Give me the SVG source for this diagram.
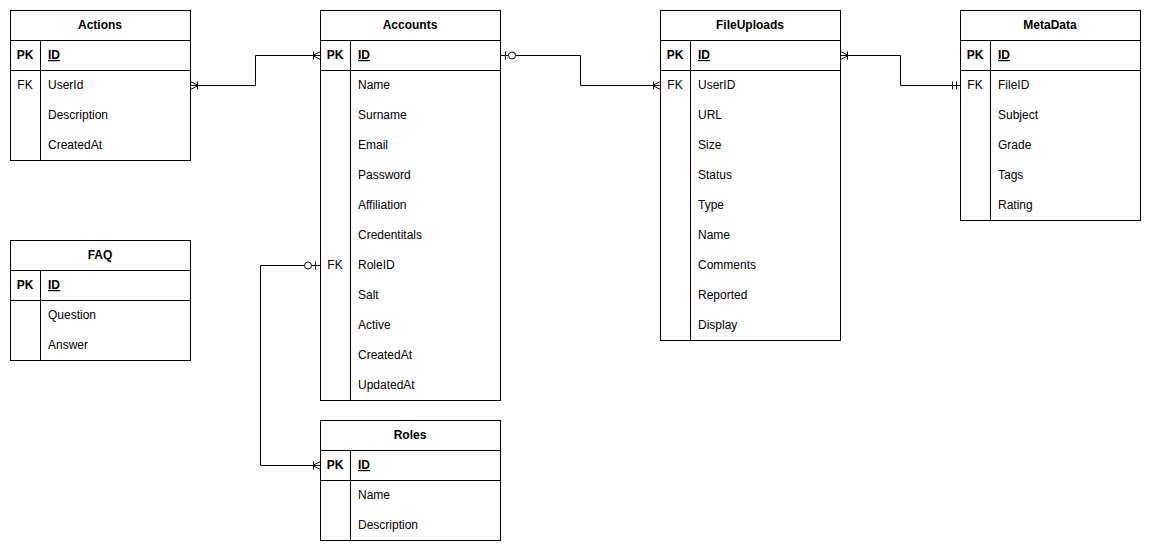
<svg xmlns="http://www.w3.org/2000/svg" width="1151" height="551" viewBox="0 0 1151 551">
  <style>
    .box { fill: #ffffff; stroke: #000000; stroke-width: 1; }
    .sep { stroke: #000000; stroke-width: 1; fill: none; }
    .title { font-family: "Liberation Sans", Arial, sans-serif; font-size: 12px; font-weight: bold; text-anchor: middle; fill: #000; }
    .key { font-family: "Liberation Sans", Arial, sans-serif; font-size: 12px; text-anchor: middle; fill: #000; }
    .pk { font-weight: bold; }
    .field { font-family: "Liberation Sans", Arial, sans-serif; font-size: 12px; fill: #000; }
    .id { font-weight: bold; text-decoration: underline; }
    .edge { stroke: #000000; stroke-width: 1; fill: none; }
    .end { stroke: #000000; stroke-width: 1; fill: #ffffff; }
  </style>

  <!-- Actions -->
  <g id="actions">
    <rect class="box" x="10.5" y="10.5" width="180" height="150"/>
    <line class="sep" x1="10.5" y1="40.5" x2="190.5" y2="40.5"/>
    <line class="sep" x1="10.5" y1="70.5" x2="190.5" y2="70.5"/>
    <line class="sep" x1="40.5" y1="40.5" x2="40.5" y2="160.5"/>
    <text class="title" x="100" y="29">Actions</text>
    <text class="key pk" x="25" y="59">PK</text>
    <text class="field id" x="48" y="59">ID</text>
    <text class="key" x="25" y="89">FK</text>
    <text class="field" x="48" y="89">UserId</text>
    <text class="field" x="48" y="119">Description</text>
    <text class="field" x="48" y="149">CreatedAt</text>
  </g>

  <!-- FAQ -->
  <g id="faq">
    <rect class="box" x="10.5" y="240.5" width="180" height="120"/>
    <line class="sep" x1="10.5" y1="270.5" x2="190.5" y2="270.5"/>
    <line class="sep" x1="10.5" y1="300.5" x2="190.5" y2="300.5"/>
    <line class="sep" x1="40.5" y1="270.5" x2="40.5" y2="360.5"/>
    <text class="title" x="100" y="259">FAQ</text>
    <text class="key pk" x="25" y="289">PK</text>
    <text class="field id" x="48" y="289">ID</text>
    <text class="field" x="48" y="319">Question</text>
    <text class="field" x="48" y="349">Answer</text>
  </g>

  <!-- Accounts -->
  <g id="accounts">
    <rect class="box" x="320.5" y="10.5" width="180" height="390"/>
    <line class="sep" x1="320.5" y1="40.5" x2="500.5" y2="40.5"/>
    <line class="sep" x1="320.5" y1="70.5" x2="500.5" y2="70.5"/>
    <line class="sep" x1="350.5" y1="40.5" x2="350.5" y2="400.5"/>
    <text class="title" x="410" y="29">Accounts</text>
    <text class="key pk" x="335" y="59">PK</text>
    <text class="field id" x="358" y="59">ID</text>
    <text class="field" x="358" y="89">Name</text>
    <text class="field" x="358" y="119">Surname</text>
    <text class="field" x="358" y="149">Email</text>
    <text class="field" x="358" y="179">Password</text>
    <text class="field" x="358" y="209">Affiliation</text>
    <text class="field" x="358" y="239">Credentitals</text>
    <text class="key" x="335" y="269">FK</text>
    <text class="field" x="358" y="269">RoleID</text>
    <text class="field" x="358" y="299">Salt</text>
    <text class="field" x="358" y="329">Active</text>
    <text class="field" x="358" y="359">CreatedAt</text>
    <text class="field" x="358" y="389">UpdatedAt</text>
  </g>

  <!-- Roles -->
  <g id="roles">
    <rect class="box" x="320.5" y="420.5" width="180" height="120"/>
    <line class="sep" x1="320.5" y1="450.5" x2="500.5" y2="450.5"/>
    <line class="sep" x1="320.5" y1="480.5" x2="500.5" y2="480.5"/>
    <line class="sep" x1="350.5" y1="450.5" x2="350.5" y2="540.5"/>
    <text class="title" x="410" y="439">Roles</text>
    <text class="key pk" x="335" y="469">PK</text>
    <text class="field id" x="358" y="469">ID</text>
    <text class="field" x="358" y="499">Name</text>
    <text class="field" x="358" y="529">Description</text>
  </g>

  <!-- FileUploads -->
  <g id="fileuploads">
    <rect class="box" x="660.5" y="10.5" width="180" height="330"/>
    <line class="sep" x1="660.5" y1="40.5" x2="840.5" y2="40.5"/>
    <line class="sep" x1="660.5" y1="70.5" x2="840.5" y2="70.5"/>
    <line class="sep" x1="690.5" y1="40.5" x2="690.5" y2="340.5"/>
    <text class="title" x="750" y="29">FileUploads</text>
    <text class="key pk" x="675" y="59">PK</text>
    <text class="field id" x="698" y="59">ID</text>
    <text class="key" x="675" y="89">FK</text>
    <text class="field" x="698" y="89">UserID</text>
    <text class="field" x="698" y="119">URL</text>
    <text class="field" x="698" y="149">Size</text>
    <text class="field" x="698" y="179">Status</text>
    <text class="field" x="698" y="209">Type</text>
    <text class="field" x="698" y="239">Name</text>
    <text class="field" x="698" y="269">Comments</text>
    <text class="field" x="698" y="299">Reported</text>
    <text class="field" x="698" y="329">Display</text>
  </g>

  <!-- MetaData -->
  <g id="metadata">
    <rect class="box" x="960.5" y="10.5" width="180" height="210"/>
    <line class="sep" x1="960.5" y1="40.5" x2="1140.5" y2="40.5"/>
    <line class="sep" x1="960.5" y1="70.5" x2="1140.5" y2="70.5"/>
    <line class="sep" x1="990.5" y1="40.5" x2="990.5" y2="220.5"/>
    <text class="title" x="1050" y="29">MetaData</text>
    <text class="key pk" x="975" y="59">PK</text>
    <text class="field id" x="998" y="59">ID</text>
    <text class="key" x="975" y="89">FK</text>
    <text class="field" x="998" y="89">FileID</text>
    <text class="field" x="998" y="119">Subject</text>
    <text class="field" x="998" y="149">Grade</text>
    <text class="field" x="998" y="179">Tags</text>
    <text class="field" x="998" y="209">Rating</text>
  </g>

  <!-- Relationships -->
  <g id="connectors">
    <!-- Actions.UserId >|——|< Accounts.ID -->
    <path class="edge" d="M190.5,85.5 H255.5 V55.5 H320.5"/>
    <path class="edge" d="M190.5,81.5 L198.5,85.5 L190.5,89.5 M197.5,81.5 V89.5"/>
    <path class="edge" d="M320.5,51.5 L312.5,55.5 L320.5,59.5 M313.5,51.5 V59.5"/>

    <!-- Accounts.ID |o——|< FileUploads.UserID -->
    <path class="edge" d="M515.5,55.5 H580.5 V85.5 H660.5"/>
    <path class="edge" d="M500.5,55.5 H508.5 M505.5,51.5 V59.5"/>
    <circle class="end" cx="512" cy="55.5" r="3.5"/>
    <path class="edge" d="M660.5,81.5 L652.5,85.5 L660.5,89.5 M653.5,81.5 V89.5"/>

    <!-- FileUploads.ID >|——|| MetaData.FileID -->
    <path class="edge" d="M840.5,55.5 H900.5 V85.5 H960.5"/>
    <path class="edge" d="M840.5,51.5 L848.5,55.5 L840.5,59.5 M847.5,51.5 V59.5"/>
    <path class="edge" d="M952.5,81.5 V89.5 M956.5,81.5 V89.5"/>

    <!-- Accounts.RoleID o|——|< Roles.ID -->
    <path class="edge" d="M304.5,265.5 H260.5 V465.5 H320.5"/>
    <path class="edge" d="M320.5,265.5 H311.5 M315.5,261.5 V269.5"/>
    <circle class="end" cx="308" cy="265.5" r="3.5"/>
    <path class="edge" d="M320.5,461.5 L312.5,465.5 L320.5,469.5 M313.5,461.5 V469.5"/>
  </g>
</svg>
